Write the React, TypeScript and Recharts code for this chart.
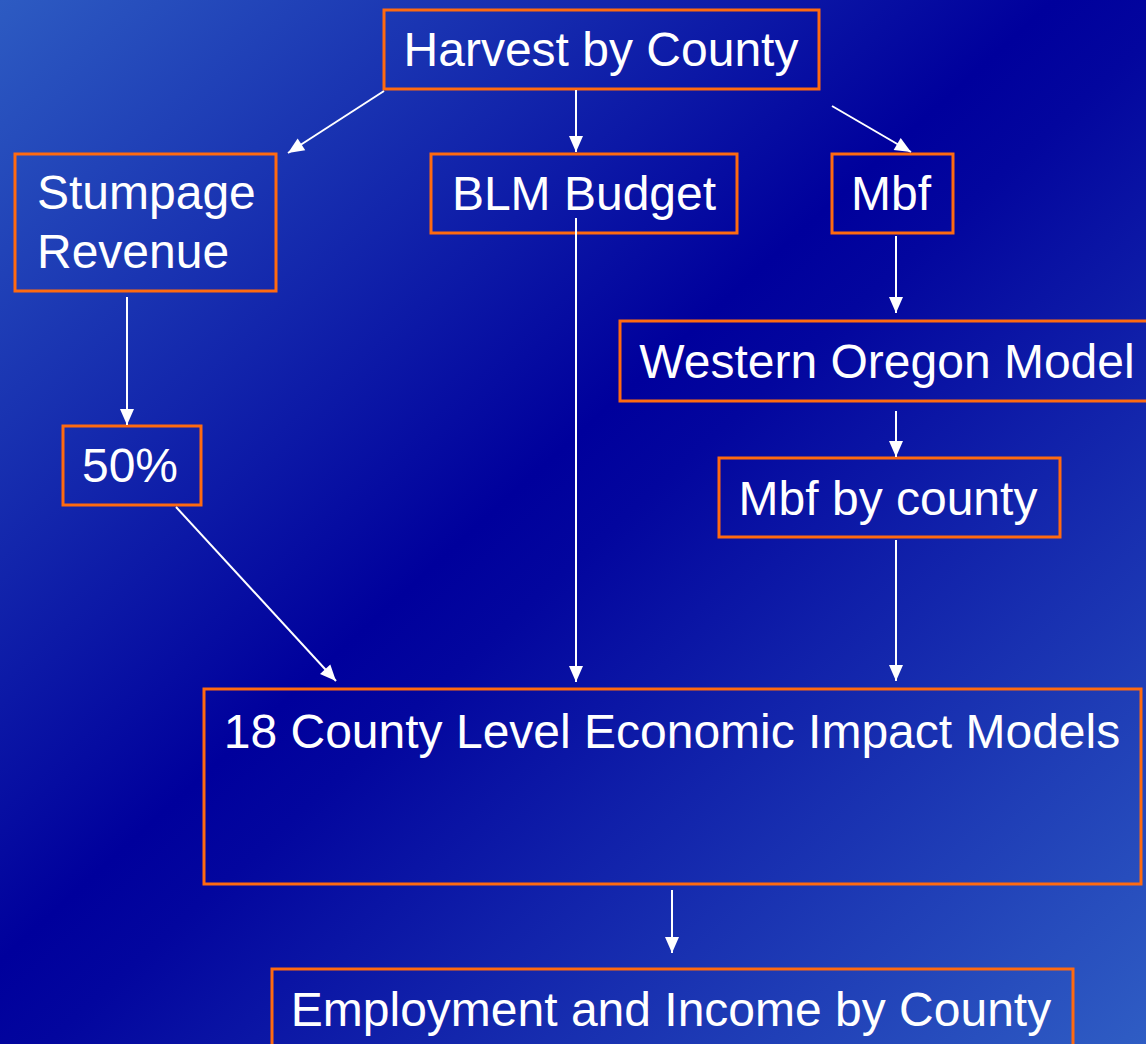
import React from 'react';
import { ComposedChart, XAxis, YAxis, Scatter, ReferenceArea } from 'recharts';

// Flow diagram drawn on a 0..1146 x 0..1044 grid (y grows downward)
const boxNames = ['harvest', 'stumpage', 'blm', 'mbf', 'western', 'fifty', 'mbfCounty', 'impact', 'employment'];
const boxX1 = [384, 15, 431, 832, 620, 63, 719, 204, 272];
const boxX2 = [819, 276, 737, 953, 1160, 201, 1060, 1141, 1073];
const boxY1 = [10, 154, 154, 154, 321, 426, 458, 689, 969];
const boxY2 = [89, 291, 233, 233, 401, 505, 537, 884, 1060];

const labelText = [
  'Harvest by County',
  'Stumpage',
  'Revenue',
  'BLM Budget',
  'Mbf',
  'Western Oregon Model',
  '50%',
  'Mbf by county',
  '18 County Level Economic Impact Models',
  'Employment and Income by County',
];
const labelX = [601, 37, 37, 584, 891, 887, 130, 888, 672, 671];
const labelY = [66, 209, 268, 210, 210, 378, 482, 515, 748, 1026];
const labelAlign = ['middle', 'start', 'start', 'middle', 'middle', 'middle', 'middle', 'middle', 'middle', 'middle'];

// arrows: start point -> tip
const arrowFromX = [384, 576, 832, 127, 576, 896, 896, 176, 896, 672];
const arrowFromY = [91, 90, 106, 297, 218, 236, 411, 507, 540, 890];
const arrowToX = [288, 576, 911, 127, 576, 896, 896, 336, 896, 672];
const arrowToY = [153, 152, 152, 425, 682, 313, 457, 681, 681, 953];

const labels = labelText.map((text, i) => ({ x: labelX[i], y: labelY[i], text, align: labelAlign[i] }));

const FONT = '"Liberation Sans", Arial, sans-serif';

const LabelShape = (props: any) => {
  const { cx, cy, payload } = props;
  return (
    <text x={cx} y={cy} fill="#ffffff" fontSize={48} fontFamily={FONT} textAnchor={payload.align}>
      {payload.text}
    </text>
  );
};

const ArrowHead = (props: any) => {
  const { cx, cy, payload } = props;
  if (!payload.tip) return <g />;
  const ang = (Math.atan2(payload.dy, payload.dx) * 180) / Math.PI;
  return (
    <polygon
      points="0,0 -16,-7 -16,7"
      fill="#ffffff"
      transform={`translate(${cx},${cy}) rotate(${ang})`}
    />
  );
};

const App: React.FC = () => {
  return (
    <div
      style={{
        position: 'absolute',
        left: 0,
        top: 0,
        width: 1146,
        height: 1044,
        overflow: 'hidden',
        background: 'linear-gradient(to bottom right, #2d5bc2 0%, #00009c 46%, #03069e 52%, #2f5dc4 100%)',
      }}
    >
      <ComposedChart width={1146} height={1044} margin={{ top: 0, right: 0, bottom: 0, left: 0 }}>
        <XAxis type="number" dataKey="x" domain={[0, 1146]} allowDataOverflow hide />
        <YAxis type="number" dataKey="y" domain={[0, 1044]} allowDataOverflow reversed hide />
        {boxNames.map((name, i) => (
          <ReferenceArea
            key={name}
            x1={boxX1[i]}
            x2={boxX2[i]}
            y1={boxY1[i]}
            y2={boxY2[i]}
            ifOverflow="visible"
            fill="none"
            fillOpacity={0}
            stroke="#ff6a10"
            strokeWidth={3}
            strokeOpacity={1}
          />
        ))}
        {arrowFromX.map((fx, i) => (
          <Scatter
            key={`arrow-${i}`}
            data={[
              { x: fx, y: arrowFromY[i], tip: false },
              {
                x: arrowToX[i],
                y: arrowToY[i],
                tip: true,
                dx: arrowToX[i] - fx,
                dy: arrowToY[i] - arrowFromY[i],
              },
            ]}
            line={{ stroke: '#ffffff', strokeWidth: 2 }}
            lineType="joint"
            shape={ArrowHead}
            isAnimationActive={false}
          />
        ))}
        <Scatter data={labels} shape={LabelShape} isAnimationActive={false} />
      </ComposedChart>
    </div>
  );
};

export default App;
